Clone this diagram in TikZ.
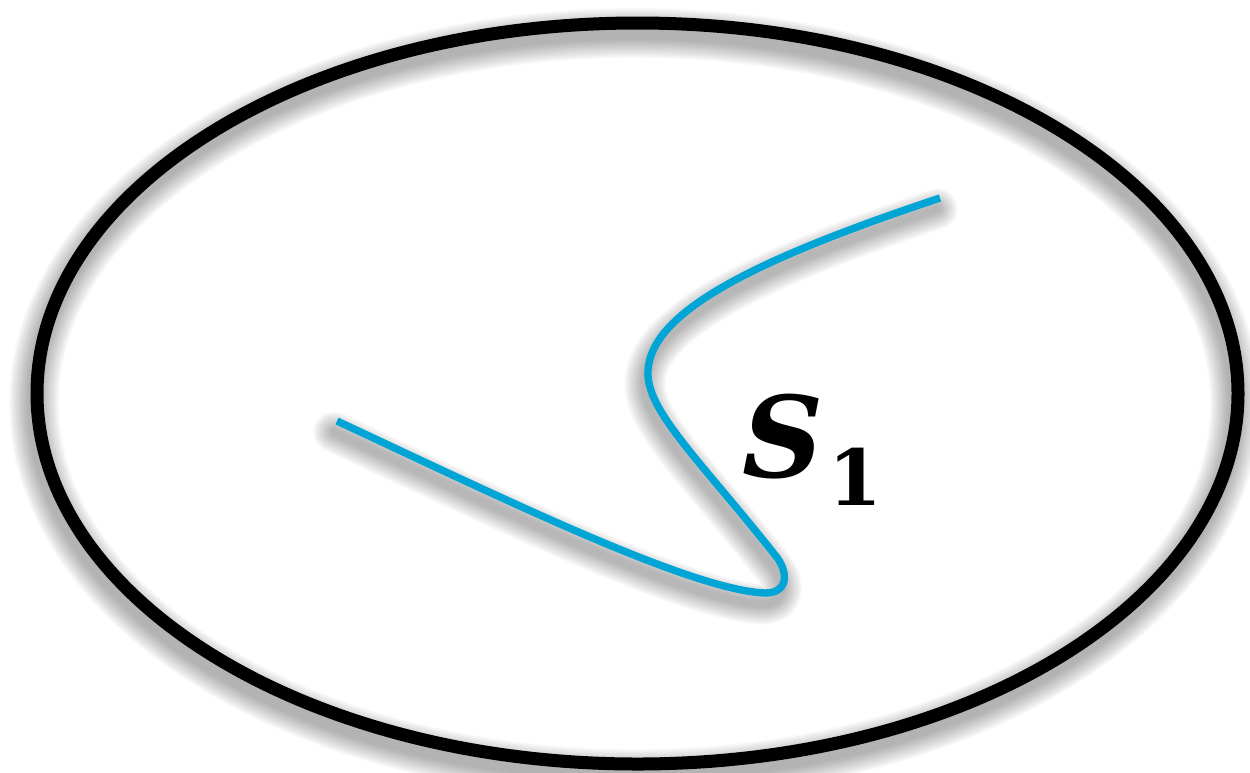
\documentclass[tikz,border=0pt]{standalone}
\usepackage{fontspec}
\setmainfont{DejaVu Serif}
\definecolor{curveblue}{RGB}{0,165,214}
\tikzset{
  px/.style={x=0.02cm,y=-0.02cm},
  ringline/.style={draw=black,line width=7.4pt},
  curveline/.style={draw=curveblue,line width=4.2pt},
  shadowline/.style={draw=black,opacity=0.022},
  labeltext/.style={inner sep=0pt,anchor=base west,font=\fontsize{64pt}{70pt}\selectfont\bfseries},
}
\begin{document}
\begin{tikzpicture}[px]
\useasboundingbox (0,0) rectangle (1250,772);
% soft shadows
\foreach \k in {0,...,14}{
  \pgfmathsetmacro\w{7.4+\k*1.5}
  \draw[shadowline,line width=\w pt,shift={(-3,10)}] (637.5,393.5) ellipse [x radius=600.5,y radius=370.5];
}
\foreach \k in {0,...,13}{
  \pgfmathsetmacro\w{4+\k*1.5}
  \draw[shadowline,line width=\w pt,line cap=round,shift={(-3,11)}]
    (337,421) .. controls (500,497) and (690,590) .. (765,593)
    .. controls (790,593) and (788,570) .. (775,555)
    .. controls (700,460) and (645,410) .. (648,370)
    .. controls (652,310) and (760,258) .. (940,198);
}
% ring
\draw[ringline] (637.5,393.5) ellipse [x radius=600.5,y radius=370.5];
% curve
\draw[curveline]
    (337,421) .. controls (500,497) and (690,590) .. (765,593)
    .. controls (790,593) and (788,570) .. (775,555)
    .. controls (700,460) and (645,410) .. (648,370)
    .. controls (652,310) and (760,258) .. (940,198);
% label
\node[labeltext] (s1) at (742,477) {\itshape S\hspace{3pt}\raisebox{-16pt}{\fontsize{44pt}{48pt}\selectfont\upshape 1}};
\end{tikzpicture}
\end{document}
